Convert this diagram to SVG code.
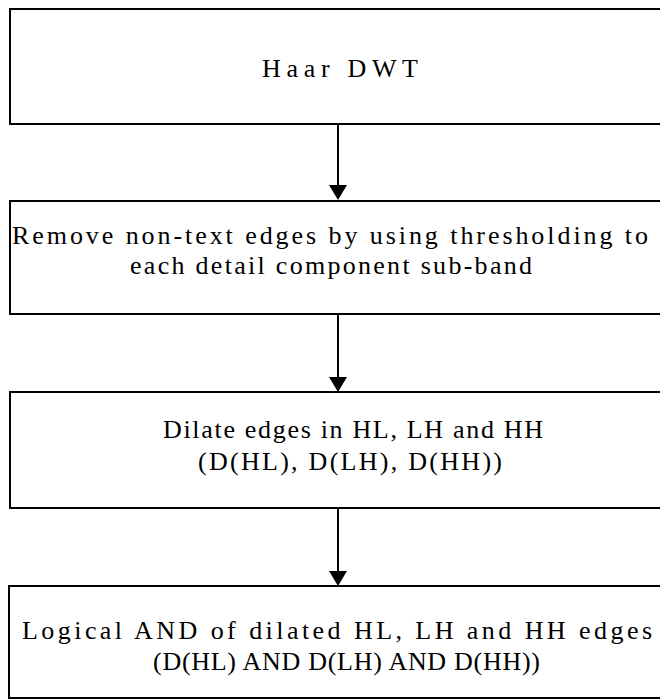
<svg xmlns="http://www.w3.org/2000/svg" width="660" height="700" viewBox="0 0 660 700">
<defs>
<style>
.box{fill:#fff;stroke:#000;stroke-width:2}
.t{font-family:"Liberation Serif","Times New Roman",serif;font-size:26px;fill:#000}
.c{stroke:#000;stroke-width:2;fill:none}
.h{fill:#000}
</style>
</defs>
<rect width="660" height="700" fill="#fff"/>
<g id="n1">
<rect class="box" x="10" y="9" width="670" height="115"/>
<text class="t" x="262" y="77" textLength="156" lengthAdjust="spacing">Haar DWT</text>
</g>
<g id="n2">
<rect class="box" x="10" y="201" width="670" height="113"/>
<text class="t" x="12" y="244" textLength="636" lengthAdjust="spacing">Remove non-text edges by using thresholding to</text>
<text class="t" x="130" y="274" textLength="402" lengthAdjust="spacing">each detail component sub-band</text>
</g>
<g id="n3">
<rect class="box" x="10" y="392" width="670" height="116"/>
<text class="t" x="163" y="438" textLength="380" lengthAdjust="spacing">Dilate edges in HL, LH and HH</text>
<text class="t" x="198" y="470" textLength="304" lengthAdjust="spacing">(D(HL), D(LH), D(HH))</text>
</g>
<g id="n4">
<rect class="box" x="9" y="586" width="670" height="112"/>
<text class="t" x="22" y="639" textLength="630" lengthAdjust="spacing">Logical AND of dilated HL, LH and HH edges</text>
<text class="t" x="153" y="670" textLength="387" lengthAdjust="spacing">(D(HL) AND D(LH) AND D(HH))</text>
</g>
<g id="connectors">
<line class="c" x1="338" y1="124" x2="338" y2="188"/>
<polygon class="h" points="329,185 347,185 338,200"/>
<line class="c" x1="338" y1="314" x2="338" y2="380"/>
<polygon class="h" points="329,377 347,377 338,392"/>
<line class="c" x1="338" y1="508" x2="338" y2="574"/>
<polygon class="h" points="329,571 347,571 338,586"/>
</g>
</svg>
